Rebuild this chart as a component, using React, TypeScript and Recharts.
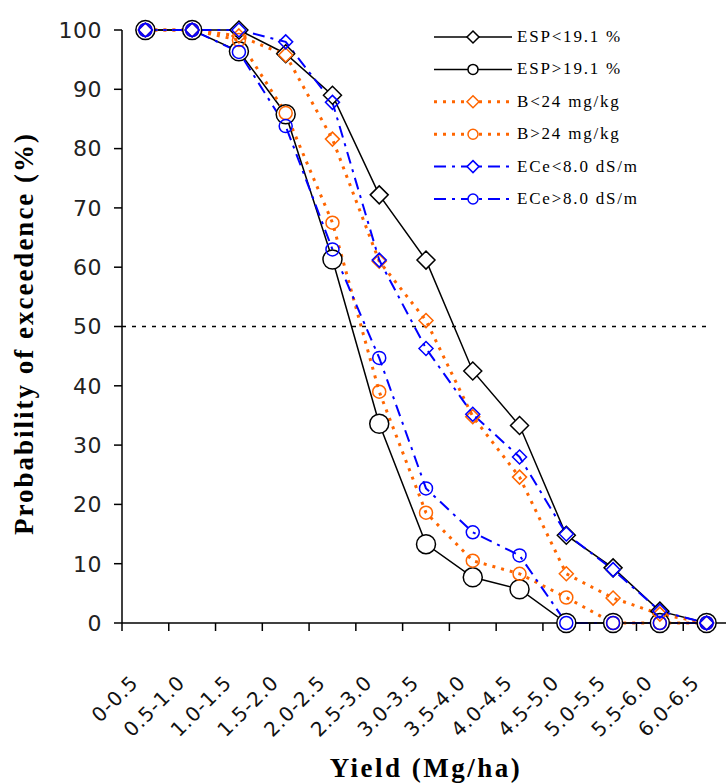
import React from 'react';
import { LineChart, Line, XAxis, YAxis, ReferenceLine, Legend } from 'recharts';

const categories = ['0-0.5', '0.5-1.0', '1.0-1.5', '1.5-2.0', '2.0-2.5', '2.5-3.0', '3.0-3.5', '3.5-4.0', '4.0-4.5', '4.5-5.0', '5.0-5.5', '5.5-6.0', '6.0-6.5'];
const espLow = [100, 100, 100, 96, 89, 72.2, 61.2, 42.5, 33.3, 14.8, 9.3, 2, 0];
const espHigh = [100, 100, 96.4, 85.8, 61.3, 33.6, 13.3, 7.7, 5.7, 0, 0, 0, 0];
const bLow = [100, 100, 99, 95.8, 81.6, 61, 51, 34.8, 24.6, 8.3, 4.2, 1.5, 0];
const bHigh = [100, 100, 98.3, 86, 67.5, 39, 18.6, 10.5, 8.3, 4.3, 0, 0, 0];
const eceLow = [100, 100, 100, 98, 87.8, 61.2, 46.3, 35.2, 28, 15, 9, 2, 0];
const eceHigh = [100, 100, 96.3, 83.8, 63, 44.7, 22.7, 15.3, 11.4, 0, 0, 0, 0];
const yTicks = [0, 10, 20, 30, 40, 50, 60, 70, 80, 90, 100];
const xTicks = [0, 1, 2, 3, 4, 5, 6, 7, 8, 9, 10, 11, 12, 13];

const BLACK = '#000000';
const ORANGE = '#FF6600';
const BLUE = '#0000FF';
const SERIF = '"Liberation Serif", "DejaVu Serif", serif';

type Info = { key: string; name: string; values: number[]; color: string; dash?: string; width: number; marker: 'diamond' | 'circle'; size: number; fill: string };

const series: Info[] = [
  { key: 'espLow', name: 'ESP<19.1 %', values: espLow, color: BLACK, width: 1.5, marker: 'diamond', size: 9, fill: '#ffffff' },
  { key: 'espHigh', name: 'ESP>19.1 %', values: espHigh, color: BLACK, width: 1.5, marker: 'circle', size: 9.5, fill: '#ffffff' },
  { key: 'bLow', name: 'B<24 mg/kg', values: bLow, color: ORANGE, dash: '3 6', width: 3, marker: 'diamond', size: 7, fill: 'none' },
  { key: 'bHigh', name: 'B>24 mg/kg', values: bHigh, color: ORANGE, dash: '3 6', width: 3, marker: 'circle', size: 6.5, fill: 'none' },
  { key: 'eceLow', name: 'ECe<8.0 dS/m', values: eceLow, color: BLUE, dash: '12 6 3 6', width: 2, marker: 'diamond', size: 7, fill: 'none' },
  { key: 'eceHigh', name: 'ECe>8.0 dS/m', values: eceHigh, color: BLUE, dash: '12 6 3 6', width: 2, marker: 'circle', size: 6.5, fill: 'none' },
];

const data = categories.map((c, i) => {
  const row: any = { pos: i + 0.5, cat: c };
  series.forEach((s) => { row[s.key] = s.values[i]; });
  return row;
});

const HALF_BAND = 23.4;

function Marker({ cx, cy, info }: { cx: number; cy: number; info: Info }) {
  const s = info.size;
  if (info.marker === 'diamond') {
    return <polygon points={`${cx},${cy - s} ${cx + s},${cy} ${cx},${cy + s} ${cx - s},${cy}`} fill={info.fill} stroke={info.color} strokeWidth={1.5} />;
  }
  return <circle cx={cx} cy={cy} r={s} fill={info.fill} stroke={info.color} strokeWidth={1.5} />;
}

const XTick = (props: any) => {
  const { x, y, payload } = props;
  const idx = payload.value;
  if (idx >= categories.length) return <g />;
  return (
    <text transform={`translate(${x + HALF_BAND - 6},${y + 53}) rotate(-45)`} textAnchor="end" style={{ fontFamily: 'DejaVu Sans', fontSize: 20, letterSpacing: 0.8 }} fill="#111">
      {categories[idx]}
    </text>
  );
};

const LegendBox = () => (
  <svg width={300} height={200} style={{ display: 'block' }}>
    {series.map((s, i) => {
      const cy = 16 + i * 32.4;
      return (
        <g key={s.key}>
          <line x1={8} y1={cy} x2={86} y2={cy} stroke={s.color} strokeWidth={s.width} strokeDasharray={s.dash} />
          <Marker cx={47} cy={cy} info={{ ...s, size: s.marker === 'diamond' ? 6 : 5, fill: '#ffffff' }} />
          <text x={91} y={cy + 5} style={{ fontFamily: SERIF, fontSize: 17, letterSpacing: 1.8 }} fill="#000">{s.name}</text>
        </g>
      );
    })}
  </svg>
);

export default function App() {
  return (
    <div style={{ position: 'absolute', left: 0, top: 0, width: 726, height: 784, overflow: 'hidden', background: '#fff' }}>
      <LineChart width={740} height={784} data={data} margin={{ top: 30, right: 10, left: 0, bottom: 10 }}>
        <XAxis
          dataKey="pos"
          type="number"
          domain={[0, 13]}
          ticks={xTicks}
          interval={0}
          allowDecimals
          height={151}
          tickSize={8}
          tickMargin={0}
          stroke="#000"
          strokeWidth={1.5}
          tick={<XTick />}
          label={(p: any) => {
            const vb = p.viewBox;
            return (
              <text x={vb.x + vb.width / 2} y={777} textAnchor="middle" style={{ fontFamily: SERIF, fontWeight: 'bold', fontSize: 27, letterSpacing: 2.5 }} fill="#000">
                Yield (Mg/ha)
              </text>
            );
          }}
        />
        <YAxis
          type="number"
          domain={[0, 100]}
          ticks={yTicks}
          interval={0}
          width={122}
          tickSize={8}
          tickMargin={12}
          stroke="#000"
          strokeWidth={1.5}
          tick={{ fontFamily: 'DejaVu Sans', fontSize: 22, fill: '#222', letterSpacing: 0.5 }}
          label={(p: any) => {
            const vb = p.viewBox;
            const cx = 33;
            const cy = vb.y + vb.height / 2 + 7;
            return (
              <text transform={`translate(${cx},${cy}) rotate(-90)`} textAnchor="middle" style={{ fontFamily: SERIF, fontWeight: 'bold', fontSize: 27, letterSpacing: 2 }} fill="#000">
                Probability of exceedence (%)
              </text>
            );
          }}
        />
        <ReferenceLine segment={[{ x: 0, y: 50 }, { x: 12.5, y: 50 }]} stroke="#000" strokeWidth={1.5} strokeDasharray="4 6" />
        {series.map((s) => (
          <Line
            key={s.key}
            dataKey={s.key}
            name={s.name}
            type="linear"
            stroke={s.color}
            strokeWidth={s.width}
            strokeDasharray={s.dash}
            isAnimationActive={false}
            dot={(p: any) => <g key={`${s.key}-${p.index}`}><Marker cx={p.cx} cy={p.cy} info={s} /></g>}
            activeDot={false}
          />
        ))}
        <Legend layout="vertical" align="center" verticalAlign="middle" content={() => <LegendBox />} wrapperStyle={{ left: 426, top: 21, width: 300, height: 200 }} />
      </LineChart>
    </div>
  );
}
